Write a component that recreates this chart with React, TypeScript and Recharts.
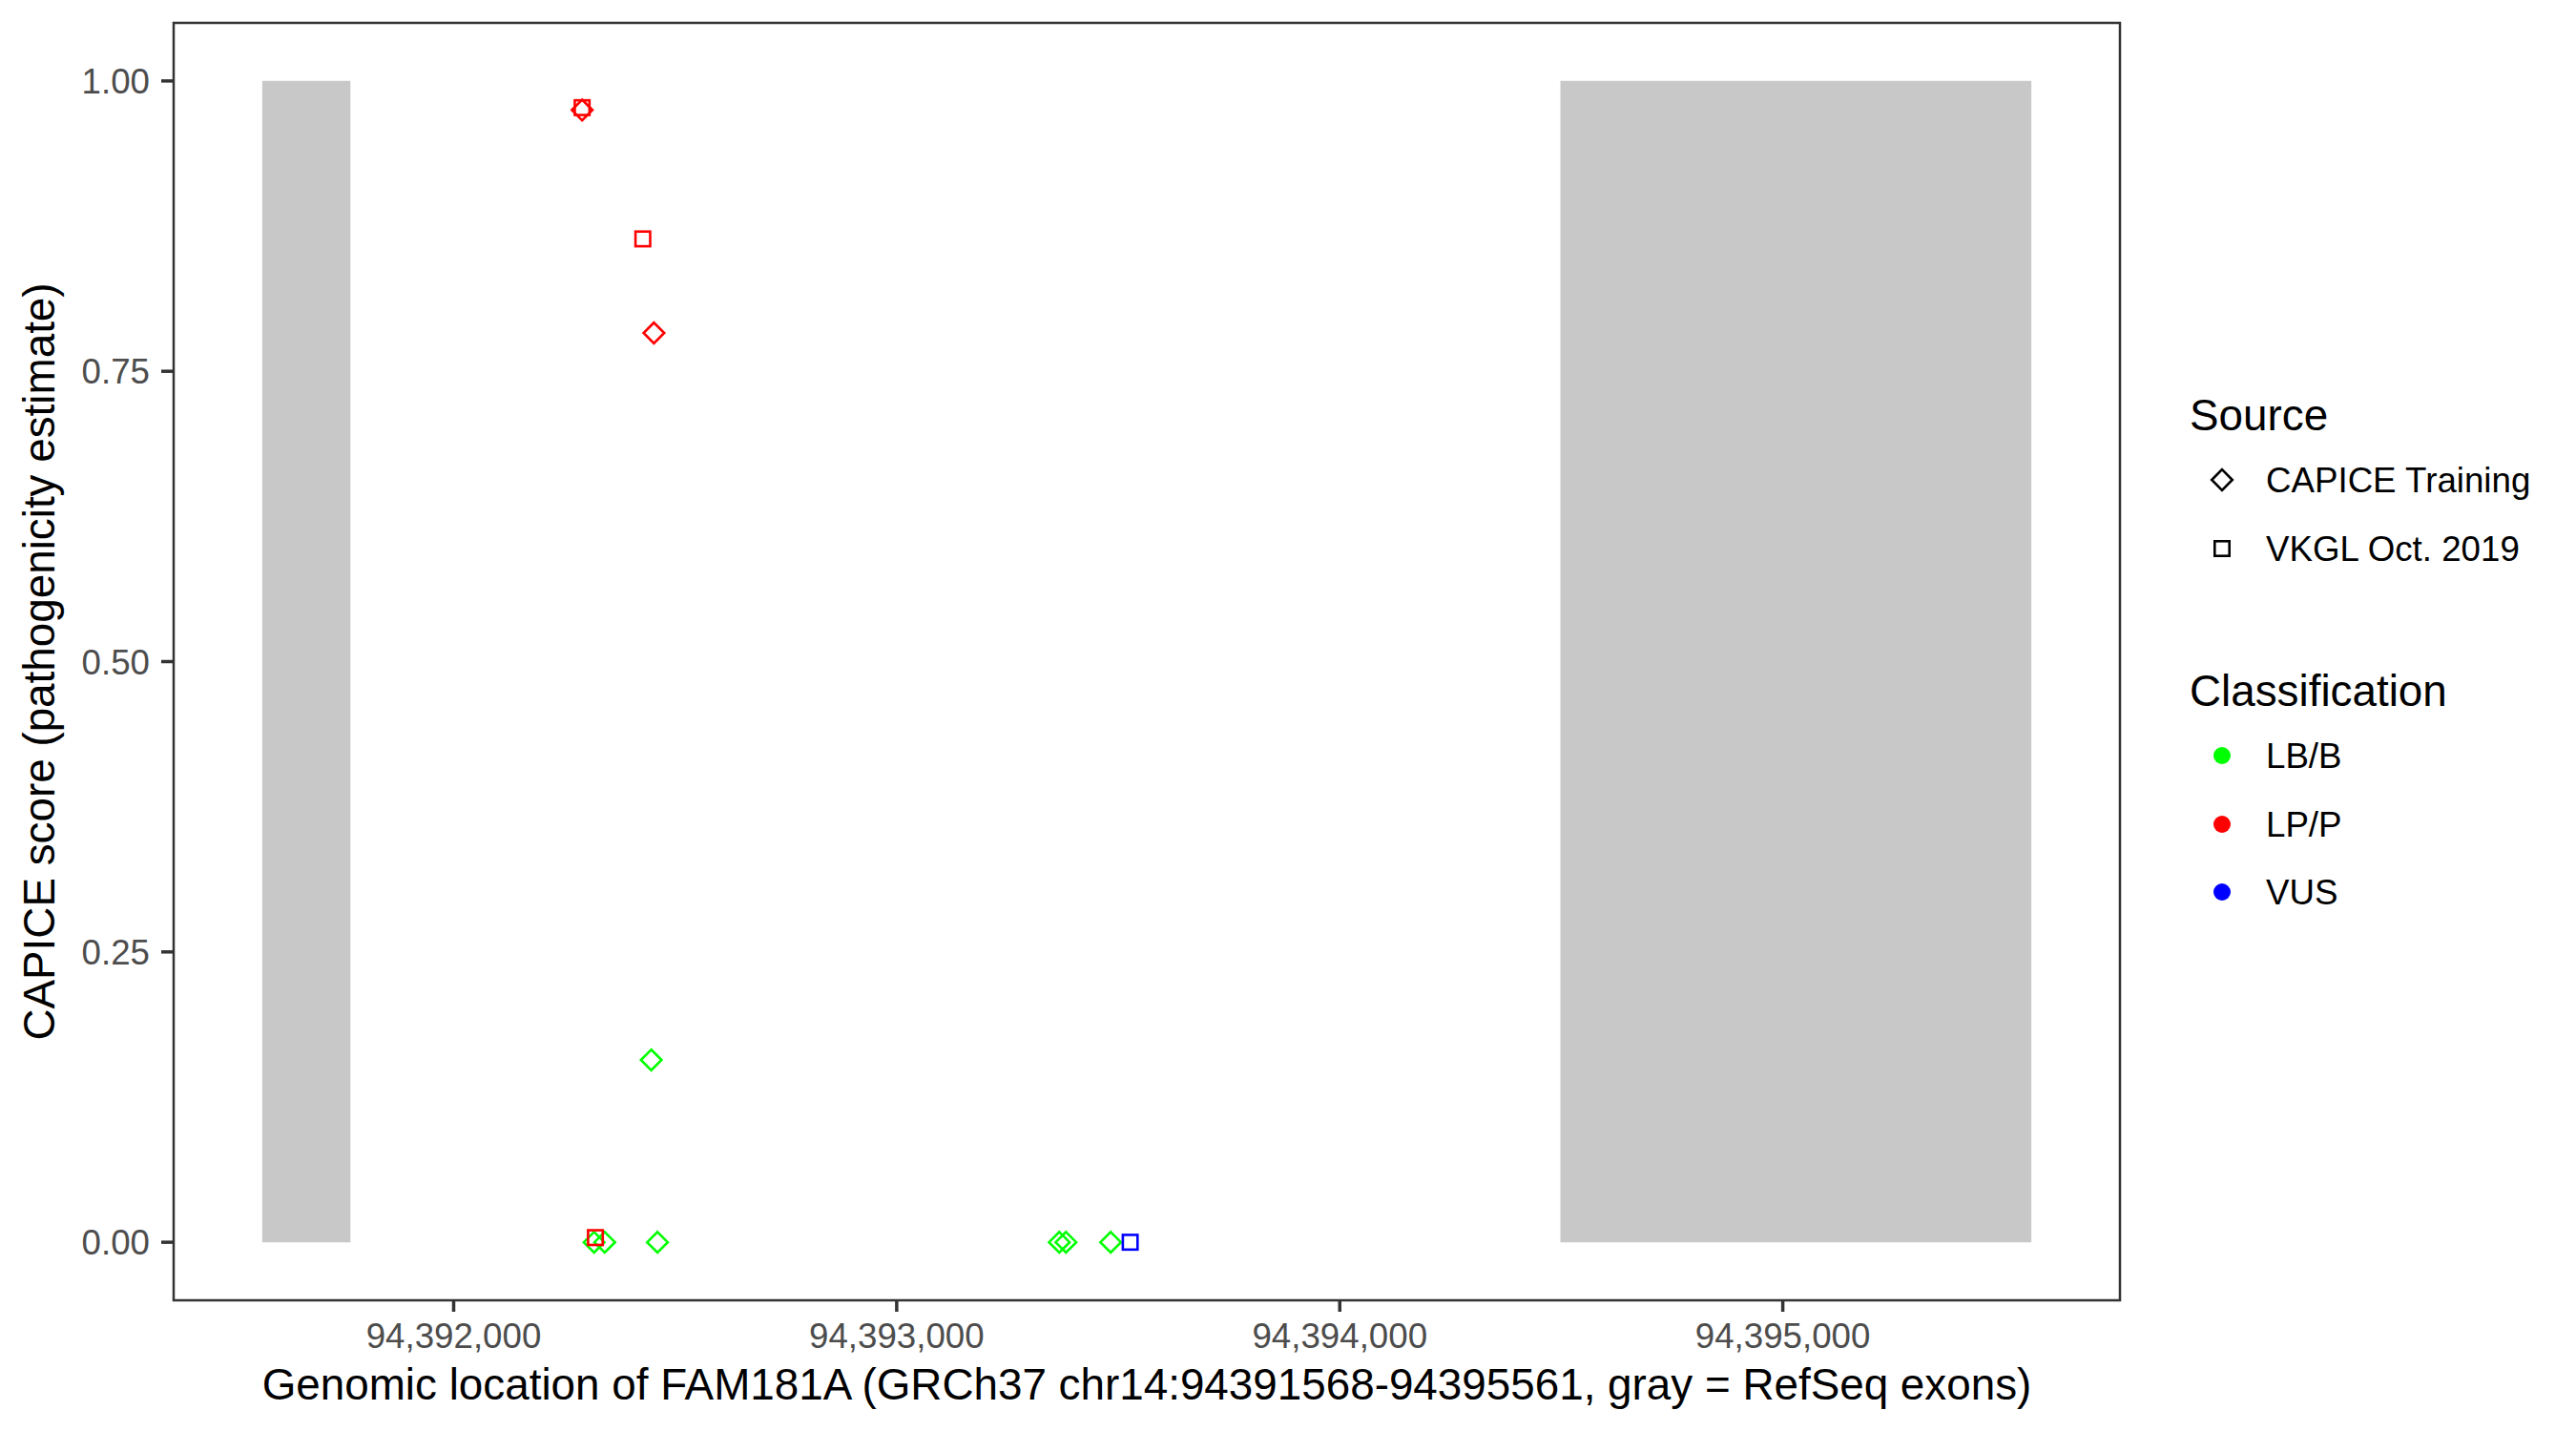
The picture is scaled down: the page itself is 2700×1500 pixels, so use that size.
import { ScatterChart, Scatter, XAxis, YAxis, ReferenceArea } from "recharts";

// RefSeq exons (gray boxes)
const exonStart = [94391568, 94394498];
const exonEnd = [94391767, 94395561];

// CAPICE training variants
const capicePos = [94392290, 94392452, 94392446, 94392317, 94392341, 94392460, 94393367, 94393382, 94393483];
const capiceScore = [0.975, 0.783, 0.157, 0, 0, 0, 0, 0, 0];
const capiceClass = ["LP/P", "LP/P", "LB/B", "LB/B", "LB/B", "LB/B", "LB/B", "LB/B", "LB/B"];

// VKGL Oct. 2019 variants
const vkglPos = [94392290, 94392427, 94392320, 94393527];
const vkglScore = [0.977, 0.864, 0.004, 0];
const vkglClass = ["LP/P", "LP/P", "LP/P", "VUS"];

const classNames = ["LB/B", "LP/P", "VUS"];
const classColors = ["#00FF00", "#FF0000", "#0000FF"];
const sourceNames = ["CAPICE Training", "VKGL Oct. 2019"];

const xTicks = [94392000, 94393000, 94394000, 94395000];
const yTicks = [0, 0.25, 0.5, 0.75, 1];
const xDomain = [94391368, 94395761];
const yDomain = [-0.05, 1.05];

const FONT = "'Liberation Sans', Arial, Helvetica, sans-serif";
const TITLE_SIZE = 45.8;
const TEXT_SIZE = 36.7;

const colorOf = (cls: string) => classColors[classNames.indexOf(cls)] ?? "#000";

const capiceData = capicePos.map((x, i) => ({ x, y: capiceScore[i], cls: capiceClass[i] }));
const vkglData = vkglPos.map((x, i) => ({ x, y: vkglScore[i], cls: vkglClass[i] }));

function Diamond(props: any) {
  const { cx, cy, payload } = props;
  const r = 10.8;
  return (
    <polygon
      points={`${cx},${cy - r} ${cx + r},${cy} ${cx},${cy + r} ${cx - r},${cy}`}
      fill="none"
      stroke={colorOf(payload.cls)}
      strokeWidth={2.6}
    />
  );
}

function Square(props: any) {
  const { cx, cy, payload } = props;
  const s = 15.4;
  return (
    <rect
      x={cx - s / 2}
      y={cy - s / 2}
      width={s}
      height={s}
      fill="none"
      stroke={colorOf(payload.cls)}
      strokeWidth={2.6}
    />
  );
}

function Legend() {
  const kx = 79;
  const tx = 125;
  const srcRows = [123, 195];
  const clsRows = [412, 484, 555];
  return (
    <svg
      width={450}
      height={620}
      style={{ position: "absolute", left: 2250, top: 380, fontFamily: FONT }}
    >
      <text x={45} y={70.5} fontSize={TITLE_SIZE} fill="#000">Source</text>
      <polygon
        points={`${kx},${srcRows[0] - 10.8} ${kx + 10.8},${srcRows[0]} ${kx},${srcRows[0] + 10.8} ${kx - 10.8},${srcRows[0]}`}
        fill="none"
        stroke="#000"
        strokeWidth={2.6}
      />
      <rect x={kx - 7.7} y={srcRows[1] - 7.7} width={15.4} height={15.4} fill="none" stroke="#000" strokeWidth={2.6} />
      {sourceNames.map((n, i) => (
        <text key={n} x={tx} y={srcRows[i] + 13} fontSize={TEXT_SIZE} fill="#000">{n}</text>
      ))}
      <text x={45} y={359.5} fontSize={TITLE_SIZE} fill="#000">Classification</text>
      {classNames.map((n, i) => (
        <g key={n}>
          <circle cx={kx} cy={clsRows[i]} r={9} fill={classColors[i]} />
          <text x={tx} y={clsRows[i] + 13} fontSize={TEXT_SIZE} fill="#000">{n}</text>
        </g>
      ))}
    </svg>
  );
}

export default function App() {
  return (
    <div style={{ position: "absolute", left: 0, top: 0, width: 2700, height: 1500, background: "#fff", fontFamily: FONT }}>
      <ScatterChart width={2700} height={1500} margin={{ top: 24, right: 478, bottom: 0, left: 0 }}>
        <XAxis
          type="number"
          dataKey="x"
          domain={xDomain}
          allowDataOverflow
          ticks={xTicks}
          interval={0}
          height={137}
          tickSize={12}
          tickMargin={12}
          axisLine={false}
          tickLine={{ stroke: "#333333", strokeWidth: 3.5 }}
          tick={{ fill: "#4D4D4D", fontSize: TEXT_SIZE, fontFamily: FONT }}
          tickFormatter={(v: number) => v.toLocaleString("en-US")}
          label={{
            value: "Genomic location of FAM181A (GRCh37 chr14:94391568-94395561, gray = RefSeq exons)",
            position: "insideBottom",
            offset: 33,
            fill: "#000",
            fontSize: TITLE_SIZE,
            fontFamily: FONT,
          }}
        />
        <YAxis
          type="number"
          dataKey="y"
          domain={yDomain}
          allowDataOverflow
          ticks={yTicks}
          interval={0}
          width={182}
          tickSize={13}
          tickMargin={12}
          axisLine={false}
          tickLine={{ stroke: "#333333", strokeWidth: 3.5 }}
          tick={{ fill: "#4D4D4D", fontSize: TEXT_SIZE, fontFamily: FONT }}
          tickFormatter={(v: number) => v.toFixed(2)}
          label={{
            value: "CAPICE score (pathogenicity estimate)",
            angle: -90,
            position: "insideLeft",
            offset: 41,
            fill: "#000",
            fontSize: TITLE_SIZE,
            fontFamily: FONT,
            style: { textAnchor: "middle" },
          }}
        />
        {exonStart.map((s, i) => (
          <ReferenceArea
            key={s}
            x1={s}
            x2={exonEnd[i]}
            y1={0}
            y2={1}
            fill="#C8C8C8"
            fillOpacity={1}
            stroke="none"
          />
        ))}
        <Scatter data={capiceData} shape={Diamond} isAnimationActive={false} />
        <Scatter data={vkglData} shape={Square} isAnimationActive={false} />
        <ReferenceArea
          x1={xDomain[0]}
          x2={xDomain[1]}
          y1={yDomain[0]}
          y2={yDomain[1]}
          fill="none"
          stroke="#333333"
          strokeWidth={2.5}
          ifOverflow="visible"
        />
      </ScatterChart>
      <Legend />
    </div>
  );
}
